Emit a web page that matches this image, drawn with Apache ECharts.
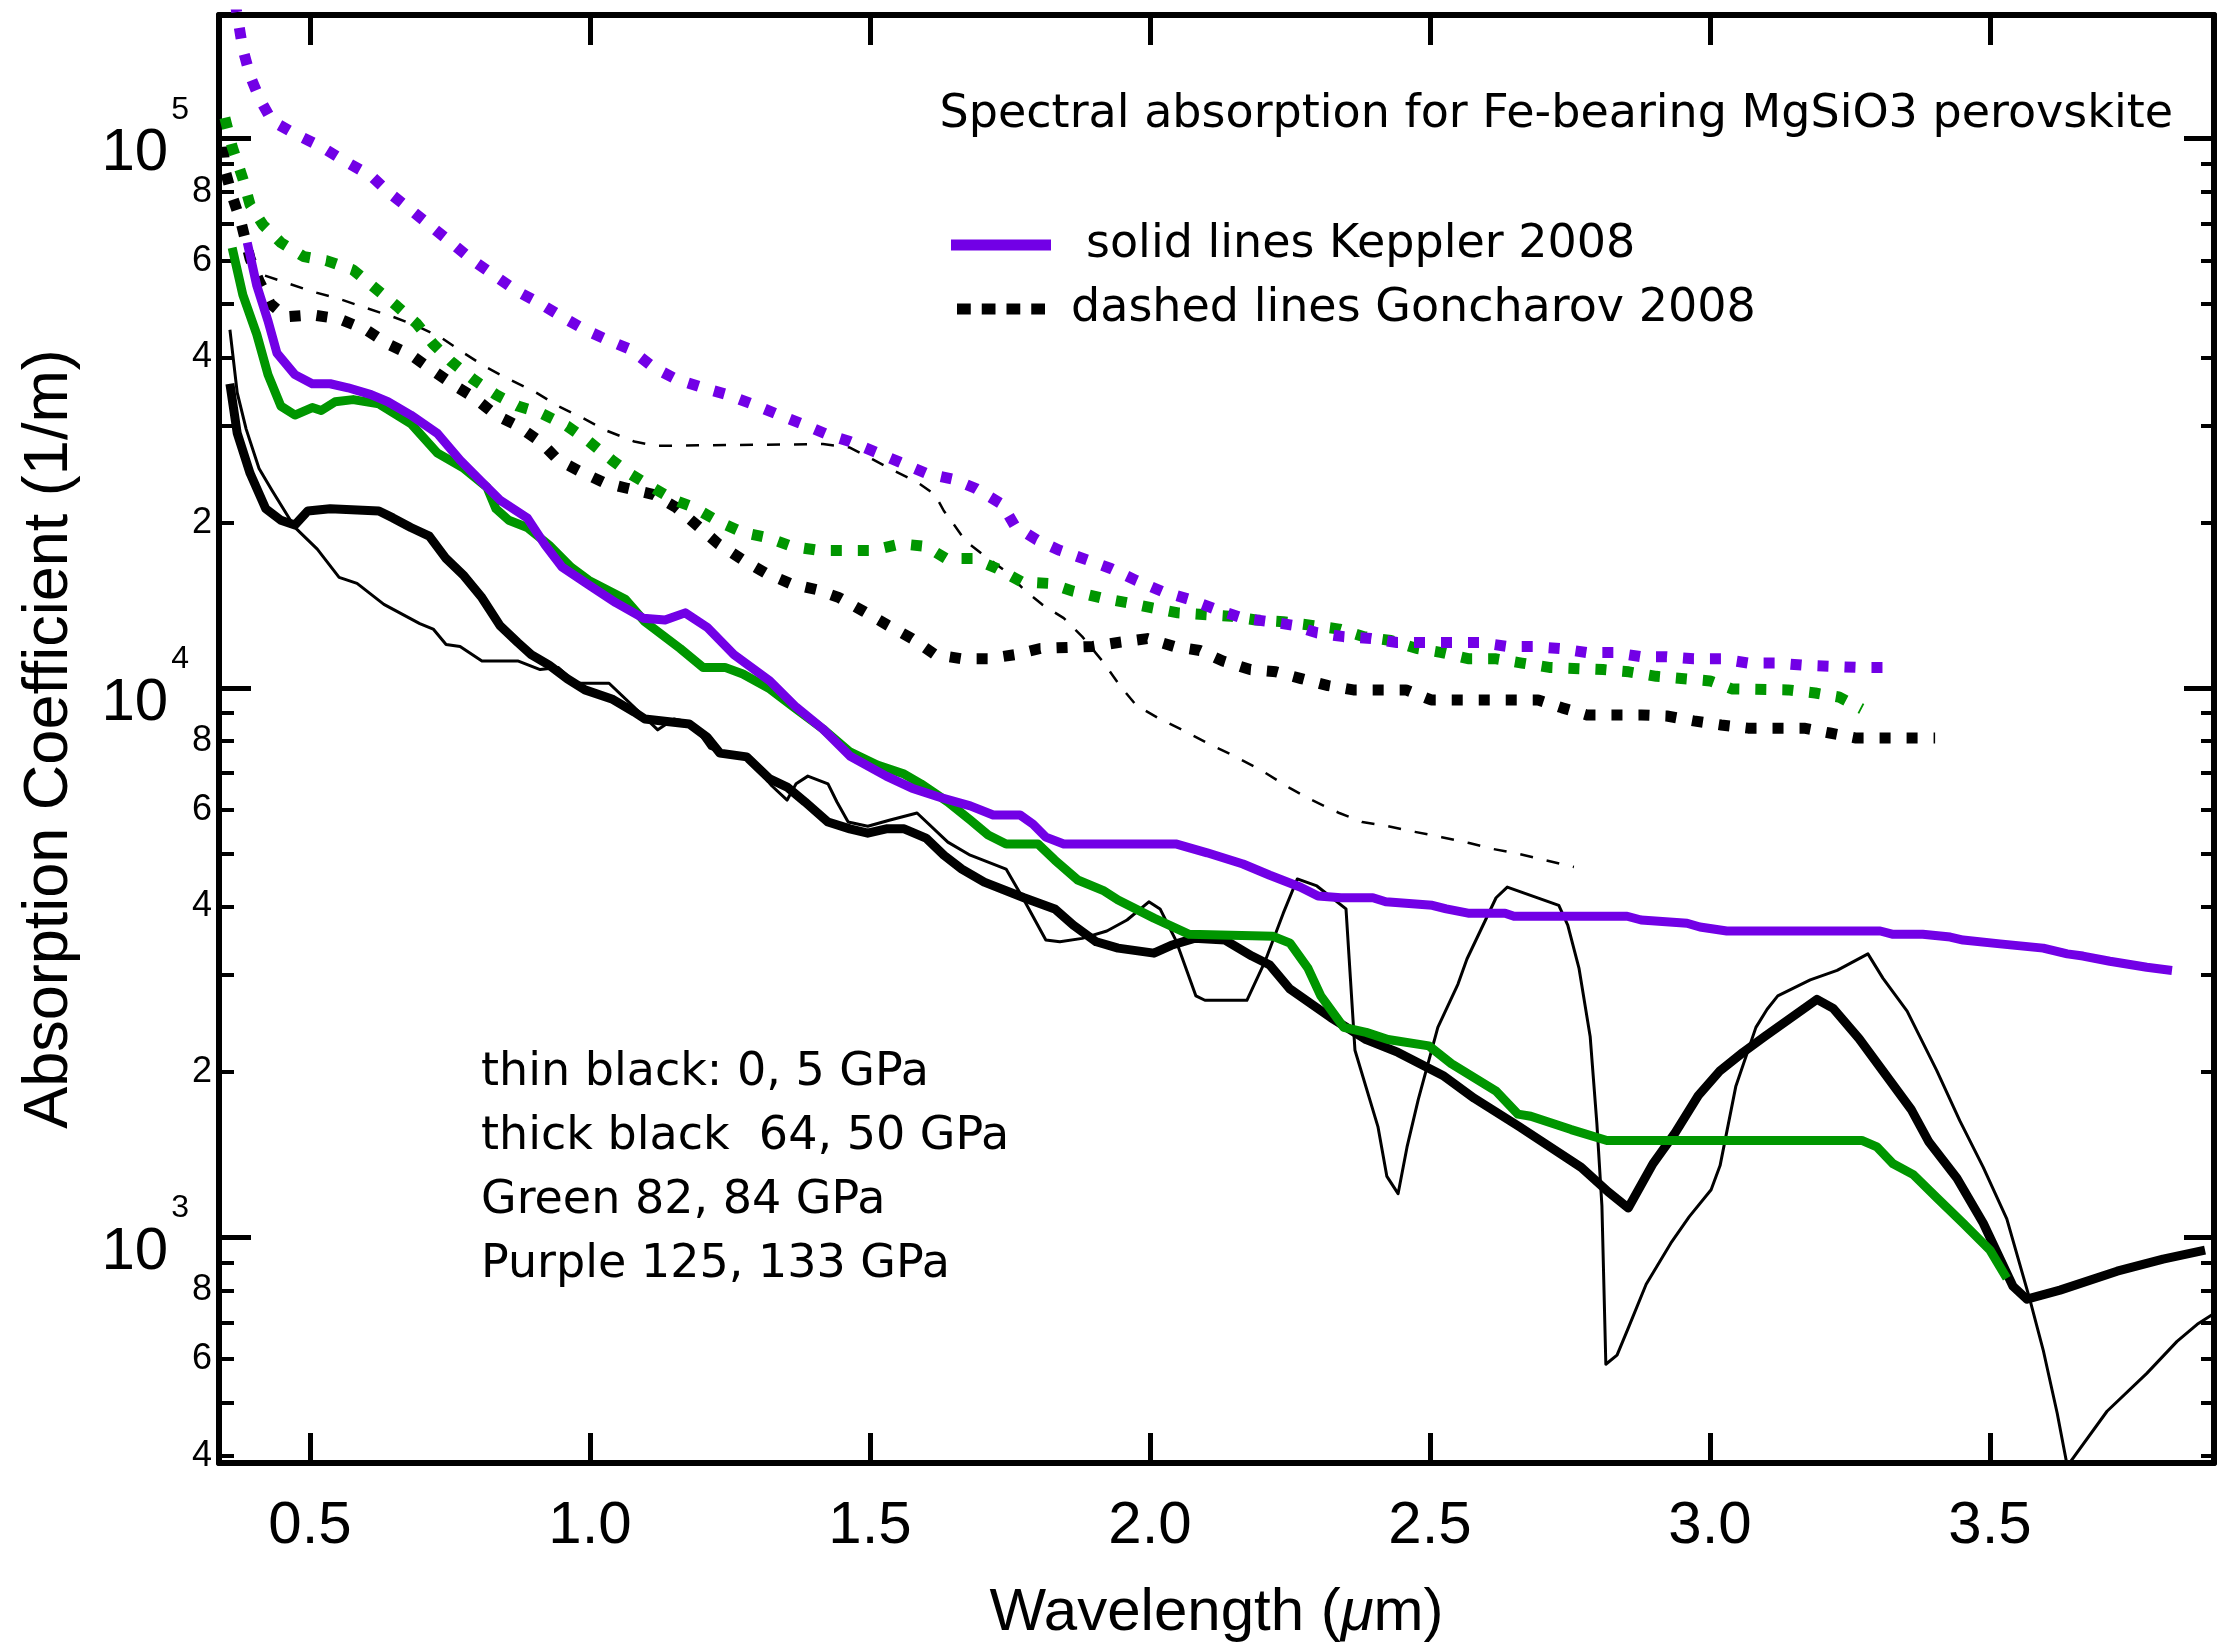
<!DOCTYPE html>
<html>
<head>
<meta charset="utf-8">
<title>Spectral absorption for Fe-bearing MgSiO3 perovskite</title>
<script src="https://cdn.jsdelivr.net/npm/echarts@6/dist/echarts.min.js"></script>
<style>
  html, body { margin: 0; padding: 0; background: #ffffff; }
  #chart { width: 2220px; height: 1643px; }
</style>
</head>
<body>
<div id="chart"></div>
<script>
// Absorption coefficient (1/m) against wavelength (um) for Fe-bearing MgSiO3 perovskite.
// Solid curves: Keppler 2008; dotted/dashed curves: Goncharov 2008.

// Keppler 2008, 125 GPa (purple solid)
const keppler125 = [[0.388,64700],[0.405,54000],[0.425,46600],[0.441,40700],[0.473,37200],[0.504,35800],[0.536,35800],[0.568,35200],[0.609,34200],[0.639,33200],[0.680,31400],[0.727,29100],[0.768,26000],[0.807,23700],[0.839,22000],[0.888,20400],[0.920,18200],[0.950,16600],[0.998,15400],[1.046,14300],[1.095,13400],[1.134,13300],[1.170,13700],[1.209,12900],[1.257,11500],[1.321,10300],[1.368,9230],[1.416,8420],[1.464,7520],[1.529,6910],[1.575,6570],[1.623,6330],[1.679,6100],[1.720,5870],[1.768,5870],[1.791,5650],[1.814,5350],[1.846,5200],[2.046,5200],[2.102,5010],[2.166,4780],[2.214,4560],[2.268,4340],[2.300,4180],[2.341,4150],[2.398,4150],[2.421,4080],[2.504,4020],[2.529,3960],[2.568,3890],[2.634,3890],[2.650,3840],[2.852,3840],[2.877,3780],[2.959,3730],[2.982,3670],[3.030,3610],[3.304,3610],[3.327,3560],[3.380,3560],[3.429,3520],[3.452,3475],[3.518,3420],[3.595,3360],[3.638,3280],[3.666,3250],[3.714,3180],[3.780,3100],[3.825,3060]];

// Keppler 2008, 82 GPa (green solid)
const keppler82 = [[0.361,63300],[0.380,52000],[0.405,44000],[0.425,37200],[0.448,32600],[0.473,31400],[0.504,32400],[0.520,32000],[0.545,33200],[0.577,33500],[0.623,32900],[0.680,30300],[0.727,26800],[0.775,25100],[0.816,23200],[0.832,21200],[0.855,20200],[0.888,19600],[0.927,18200],[0.966,16600],[0.998,15700],[1.063,14500],[1.098,13200],[1.161,11800],[1.202,10900],[1.241,10900],[1.273,10600],[1.321,9960],[1.368,9160],[1.416,8420],[1.464,7650],[1.513,7240],[1.561,6970],[1.591,6690],[1.639,6200],[1.679,5750],[1.711,5400],[1.743,5200],[1.800,5200],[1.830,4860],[1.871,4470],[1.918,4270],[1.943,4110],[2.007,3810],[2.070,3560],[2.220,3530],[2.250,3430],[2.282,3090],[2.305,2750],[2.346,2410],[2.386,2360],[2.425,2290],[2.498,2230],[2.538,2070],[2.618,1845],[2.657,1675],[2.680,1660],[2.752,1570],[2.816,1500],[3.271,1500],[3.298,1460],[3.327,1360],[3.363,1300],[3.405,1180],[3.452,1060],[3.500,947],[3.530,842]];

// Keppler 2008, 64 GPa (thick black solid)
const keppler64 = [[0.357,35800],[0.370,29100],[0.393,24600],[0.421,21200],[0.448,20200],[0.473,19800],[0.496,21000],[0.536,21200],[0.623,21000],[0.648,20400],[0.680,19600],[0.713,18900],[0.743,17200],[0.775,16000],[0.807,14600],[0.839,13000],[0.871,12100],[0.895,11500],[0.927,11000],[0.959,10400],[0.991,9920],[1.039,9550],[1.079,9040],[1.098,8780],[1.177,8600],[1.209,8140],[1.232,7610],[1.280,7490],[1.321,6830],[1.352,6600],[1.384,6200],[1.425,5700],[1.464,5540],[1.496,5440],[1.529,5540],[1.561,5540],[1.600,5330],[1.632,4960],[1.664,4680],[1.704,4430],[1.775,4150],[1.830,3960],[1.863,3700],[1.904,3450],[1.943,3360],[2.007,3290],[2.038,3400],[2.079,3500],[2.134,3475],[2.182,3250],[2.214,3130],[2.250,2830],[2.323,2510],[2.386,2290],[2.443,2170],[2.523,1970],[2.579,1790],[2.659,1590],[2.770,1340],[2.818,1210],[2.854,1130],[2.898,1360],[2.938,1550],[2.979,1810],[3.018,2010],[3.059,2170],[3.098,2320],[3.191,2710],[3.220,2610],[3.266,2300],[3.313,1980],[3.359,1710],[3.391,1490],[3.441,1280],[3.488,1060],[3.541,814],[3.566,771],[3.625,801],[3.727,867],[3.809,912],[3.884,947]];

// Keppler 2008, 0 GPa (thin black solid)
const keppler0 = [[0.357,44900],[0.370,34500],[0.386,29600],[0.409,25100],[0.432,22900],[0.473,19600],[0.513,17900],[0.552,15900],[0.584,15500],[0.632,14200],[0.696,13100],[0.720,12800],[0.743,12000],[0.768,11900],[0.807,11200],[0.871,11200],[0.911,10800],[0.943,10900],[0.975,10200],[1.034,10200],[1.082,9160],[1.121,8390],[1.150,8780],[1.182,8640],[1.214,7770],[1.248,7550],[1.280,7490],[1.325,6630],[1.352,6250],[1.368,6690],[1.389,6910],[1.425,6690],[1.441,6200],[1.461,5700],[1.496,5600],[1.536,5750],[1.584,5920],[1.639,5240],[1.679,4960],[1.743,4680],[1.775,4110],[1.814,3475],[1.839,3450],[1.879,3500],[1.923,3610],[1.959,3780],[1.998,4080],[2.018,3960],[2.046,3475],[2.082,2750],[2.098,2700],[2.173,2700],[2.205,3170],[2.238,3890],[2.263,4490],[2.298,4360],[2.350,3960],[2.366,2190],[2.407,1590],[2.423,1290],[2.443,1200],[2.459,1460],[2.479,1780],[2.514,2410],[2.550,2890],[2.566,3210],[2.618,4150],[2.638,4340],[2.730,4020],[2.746,3700],[2.766,3090],[2.786,2320],[2.798,1610],[2.807,1140],[2.814,587],[2.834,610],[2.854,683],[2.886,821],[2.930,975],[2.963,1090],[3.002,1220],[3.018,1350],[3.046,1880],[3.082,2410],[3.102,2600],[3.121,2750],[3.179,2940],[3.227,3060],[3.282,3280],[3.309,2960],[3.352,2580],[3.405,2010],[3.446,1630],[3.488,1340],[3.530,1080],[3.571,771],[3.595,623],[3.620,478],[3.638,383],[3.709,482],[3.780,565],[3.834,646],[3.870,694],[3.898,724]];

// Goncharov 2008, 133 GPa (purple dotted)
const goncharov133 = [[0.366,178000],[0.380,145800],[0.393,130200],[0.409,118800],[0.432,107800],[0.473,102100],[0.520,96700],[0.561,91200],[0.609,85600],[0.639,80100],[0.680,74200],[0.713,69700],[0.752,64700],[0.791,60000],[0.832,56100],[0.871,52700],[0.911,50100],[0.950,47400],[0.991,44900],[1.034,42900],[1.073,41300],[1.114,38300],[1.154,36500],[1.202,35200],[1.245,34200],[1.289,32900],[1.338,31400],[1.377,30300],[1.425,28900],[1.464,28100],[1.513,26800],[1.552,25800],[1.600,24600],[1.648,24000],[1.688,23100],[1.736,21600],[1.759,19700],[1.798,18600],[1.839,17800],[1.888,17100],[1.930,16500],[1.975,15700],[2.021,15000],[2.070,14500],[2.118,13900],[2.166,13400],[2.214,13200],[2.257,13000],[2.298,12600],[2.346,12400],[2.395,12300],[2.441,12100],[2.589,12100],[2.638,11900],[2.684,11900],[2.732,11800],[2.780,11600],[2.829,11600],[2.877,11400],[2.923,11400],[2.971,11300],[3.020,11300],[3.068,11100],[3.120,11100],[3.168,11000],[3.263,10900],[3.316,10900]];

// Goncharov 2008, 84 GPa (green dotted)
const goncharov84 = [[0.348,109200],[0.361,96700],[0.380,84600],[0.393,75800],[0.416,69700],[0.448,64700],[0.489,61000],[0.529,60000],[0.577,57700],[0.616,53500],[0.655,49600],[0.691,46000],[0.720,42300],[0.752,39300],[0.791,36500],[0.832,34200],[0.871,32600],[0.911,31700],[0.959,30000],[0.998,28100],[1.039,26000],[1.070,24600],[1.111,23200],[1.150,22000],[1.186,21300],[1.229,20100],[1.273,19200],[1.316,18800],[1.361,18100],[1.409,17800],[1.504,17800],[1.555,18300],[1.600,18100],[1.636,17200],[1.684,17200],[1.727,16500],[1.771,15600],[1.820,15500],[1.863,15000],[1.911,14600],[1.959,14300],[2.002,14000],[2.050,13700],[2.146,13500],[2.189,13300],[2.238,13200],[2.289,13000],[2.338,12800],[2.382,12400],[2.430,12200],[2.477,11800],[2.521,11600],[2.570,11300],[2.618,11300],[2.664,11100],[2.713,10900],[2.809,10800],[2.855,10700],[2.904,10500],[3.000,10300],[3.039,9960],[3.139,9920],[3.188,9790],[3.230,9630],[3.271,9160]];

// Goncharov 2008, 50 GPa (black dotted)
const goncharov50 = [[0.345,96700],[0.348,87800],[0.361,78700],[0.377,70300],[0.393,60500],[0.409,55100],[0.429,50100],[0.457,47400],[0.504,47800],[0.552,47000],[0.600,44900],[0.639,42300],[0.680,40400],[0.720,37800],[0.759,35500],[0.791,33900],[0.832,31400],[0.871,30000],[0.911,28100],[0.943,26000],[0.982,24800],[1.023,23700],[1.066,23100],[1.114,22500],[1.154,21300],[1.193,19700],[1.229,18300],[1.273,17100],[1.313,16200],[1.357,15500],[1.405,15100],[1.445,14600],[1.488,13800],[1.532,13000],[1.575,12300],[1.616,11500],[1.664,11300],[1.711,11300],[1.759,11500],[1.804,11800],[1.898,11900],[1.943,12100],[1.995,12300],[2.043,11900],[2.089,11700],[2.130,11200],[2.179,10800],[2.225,10700],[2.270,10400],[2.318,10100],[2.363,9920],[2.457,9920],[2.502,9510],[2.693,9510],[2.736,9200],[2.780,8930],[2.877,8930],[2.923,8890],[2.971,8710],[3.020,8560],[3.068,8450],[3.168,8450],[3.214,8280],[3.259,8110],[3.402,8110]];

// Goncharov 2008, 5 GPa (thin black dashed)
const goncharov5 = [[0.386,61000],[0.416,56500],[0.457,54700],[0.504,52700],[0.552,51100],[0.600,49200],[0.648,47400],[0.691,45600],[0.732,43600],[0.775,40700],[0.816,38300],[0.855,36500],[0.904,34500],[0.943,32600],[0.982,31200],[1.030,29400],[1.079,28100],[1.118,27600],[1.416,27800],[1.464,27400],[1.504,26100],[1.545,24800],[1.584,23700],[1.616,22500],[1.632,21000],[1.652,19700],[1.671,18500],[1.711,17200],[1.743,16300],[1.775,15100],[1.807,14200],[1.846,13400],[1.879,12400],[1.918,11100],[1.946,10100],[1.975,9310],[2.014,8820],[2.054,8420],[2.102,7940],[2.150,7520],[2.198,7090],[2.250,6570],[2.289,6250],[2.338,5920],[2.379,5700],[2.425,5600],[2.473,5470],[2.521,5350],[2.570,5220],[2.613,5090],[2.657,4990],[2.705,4860],[2.757,4720]];

// Axis ticks and labels
const xTicks = [0.5, 1.0, 1.5, 2.0, 2.5, 3.0, 3.5];
const yMajorTicks = [1000, 10000, 100000];
const yMinorTicks = [400, 500, 600, 700, 800, 900, 2000, 3000, 4000, 5000, 6000, 7000, 8000, 9000,
                     20000, 30000, 40000, 50000, 60000, 70000, 80000, 90000];
const yMinorLabels = [400, 600, 800, 2000, 4000, 6000, 8000, 20000, 40000, 60000, 80000];

const titleText = 'Spectral absorption for Fe-bearing MgSiO3 perovskite';
const legendSolid = 'solid lines Keppler 2008';
const legendDashed = 'dashed lines Goncharov 2008';
const pressureNotes = ['thin black: 0, 5 GPa', 'thick black  64, 50 GPa', 'Green 82, 84 GPa', 'Purple 125, 133 GPa'];

const PURPLE = '#7200e6';
const GREEN = '#009600';
const BLACK = '#000000';
const SANS = '"Liberation Sans", Arial, sans-serif';
const TEXT = '"DejaVu Sans", Verdana, sans-serif';

const X_MIN = 0.3375, X_MAX = 3.9;
const Y_MIN = 388, Y_MAX = 168000;

function line(name, data, color, width, dash, z) {
  return {
    name: name,
    type: 'line',
    data: data,
    xAxisIndex: 0,
    yAxisIndex: 0,
    symbol: 'none',
    showSymbol: false,
    clip: true,
    z: z,
    animation: false,
    itemStyle: { color: color },
    lineStyle: { color: color, width: width, type: dash || 'solid', cap: 'butt', join: 'round' }
  };
}

function yAxisBase(position, showLine) {
  return {
    type: 'log',
    logBase: 10,
    min: Y_MIN,
    max: Y_MAX,
    position: position,
    splitLine: { show: false },
    axisLine: { show: showLine, lineStyle: { color: BLACK, width: 6 } },
  };
}

function digitOf(v) {
  const e = Math.floor(Math.log10(v) + 1e-9);
  return String(Math.round(v / Math.pow(10, e)));
}

const yAxes = [
  Object.assign(yAxisBase('left', true), {
    name: 'Absorption Coefficient (1/m)',
    nameLocation: 'middle',
    nameGap: 138,
    nameTextStyle: { fontFamily: SANS, fontSize: 63, color: BLACK },
    axisTick: { show: true, inside: true, length: 32, customValues: yMajorTicks, lineStyle: { color: BLACK, width: 5 } },
    axisLabel: {
      show: true, customValues: yMajorTicks, margin: 30,
      formatter: function (v) { return '{b|10}{s|' + Math.round(Math.log10(v)) + '}'; },
      rich: {
        b: { fontFamily: SANS, fontSize: 60, color: BLACK, padding: [30, 3, 0, 0], verticalAlign: 'bottom' },
        s: { fontFamily: SANS, fontSize: 32, color: BLACK, verticalAlign: 'top' }
      }
    }
  }),
  Object.assign(yAxisBase('left', false), {
    axisTick: { show: true, inside: true, length: 15, customValues: yMinorTicks, lineStyle: { color: BLACK, width: 4 } },
    axisLabel: {
      show: true, customValues: yMinorLabels, margin: 7,
      fontFamily: SANS, fontSize: 36, color: BLACK,
      formatter: digitOf
    }
  }),
  Object.assign(yAxisBase('right', true), {
    axisTick: { show: true, inside: true, length: 30, customValues: yMajorTicks, lineStyle: { color: BLACK, width: 5 } },
    axisLabel: { show: false }
  }),
  Object.assign(yAxisBase('right', false), {
    axisTick: { show: true, inside: true, length: 13, customValues: yMinorTicks, lineStyle: { color: BLACK, width: 4 } },
    axisLabel: { show: false }
  })
];

const xAxes = [
  {
    type: 'value', min: X_MIN, max: X_MAX, position: 'bottom',
    name: '{n|Wavelength (}{i|μ}{n|m)}',
    nameLocation: 'middle',
    nameGap: 120,
    nameTextStyle: {
      rich: {
        n: { fontFamily: SANS, fontSize: 60, color: BLACK },
        i: { fontFamily: SANS, fontSize: 60, fontStyle: 'italic', color: BLACK }
      }
    },
    splitLine: { show: false },
    axisLine: { show: true, lineStyle: { color: BLACK, width: 6 } },
    axisTick: { show: true, inside: true, length: 30, customValues: xTicks, lineStyle: { color: BLACK, width: 5 } },
    axisLabel: {
      show: true, customValues: xTicks, margin: 33,
      fontFamily: SANS, fontSize: 60, color: BLACK,
      formatter: function (v) { return v.toFixed(1); }
    }
  },
  {
    type: 'value', min: X_MIN, max: X_MAX, position: 'top',
    splitLine: { show: false },
    axisLine: { show: true, lineStyle: { color: BLACK, width: 6 } },
    axisTick: { show: true, inside: true, length: 30, customValues: xTicks, lineStyle: { color: BLACK, width: 5 } },
    axisLabel: { show: false }
  }
];

const DOT = [11, 16];
const DASH = [13, 14];

const option = {
  backgroundColor: '#ffffff',
  animation: false,
  grid: { left: 219, top: 15, right: 6, bottom: 180, containLabel: false, outerBoundsMode: 'none' },
  title: {
    text: titleText,
    right: 47, top: 92, padding: 0,
    textStyle: { fontFamily: TEXT, fontSize: 46, fontWeight: 'normal', color: BLACK }
  },
  legend: {
    orient: 'vertical',
    left: 946, top: 217,
    itemWidth: 100, itemHeight: 11, itemGap: 18,
    selectedMode: false,
    textStyle: { fontFamily: TEXT, fontSize: 46, color: BLACK, padding: [0, 0, 0, 30] },
    data: [
      { name: legendSolid, icon: 'rect' },
      {
        name: legendDashed,
        icon: 'path://M0,0H15V12H0Z M27,0H42V12H27Z M54,0H69V12H54Z M81,0H96V12H81Z',
        textStyle: { fontFamily: TEXT, fontSize: 46, color: BLACK, padding: [0, 0, 0, 15] }
      }
    ]
  },
  graphic: [{
    type: 'text', left: 481, top: 1041, z: 10,
    style: { text: pressureNotes.join('\n'), fontFamily: TEXT, fontSize: 46, lineHeight: 64, fill: BLACK }
  }],
  xAxis: xAxes,
  yAxis: yAxes,
  series: [
    line('Keppler 0 GPa', keppler0, BLACK, 3, null, 2),
    line('Goncharov 5 GPa', goncharov5, BLACK, 2.5, DASH, 2),
    line(legendDashed, goncharov50, BLACK, 11, DOT, 3),
    line('Goncharov 84 GPa', goncharov84, GREEN, 11, DOT, 3),
    line('Goncharov 133 GPa', goncharov133, PURPLE, 11, DOT, 3),
    line('Keppler 64 GPa', keppler64, BLACK, 9, null, 4),
    line('Keppler 82 GPa', keppler82, GREEN, 9, null, 4),
    line(legendSolid, keppler125, PURPLE, 9, null, 5)
  ]
};

const chart = echarts.init(document.getElementById('chart'), null, { renderer: 'canvas', width: 2220, height: 1643 });
chart.setOption(option);
</script>
</body>
</html>
